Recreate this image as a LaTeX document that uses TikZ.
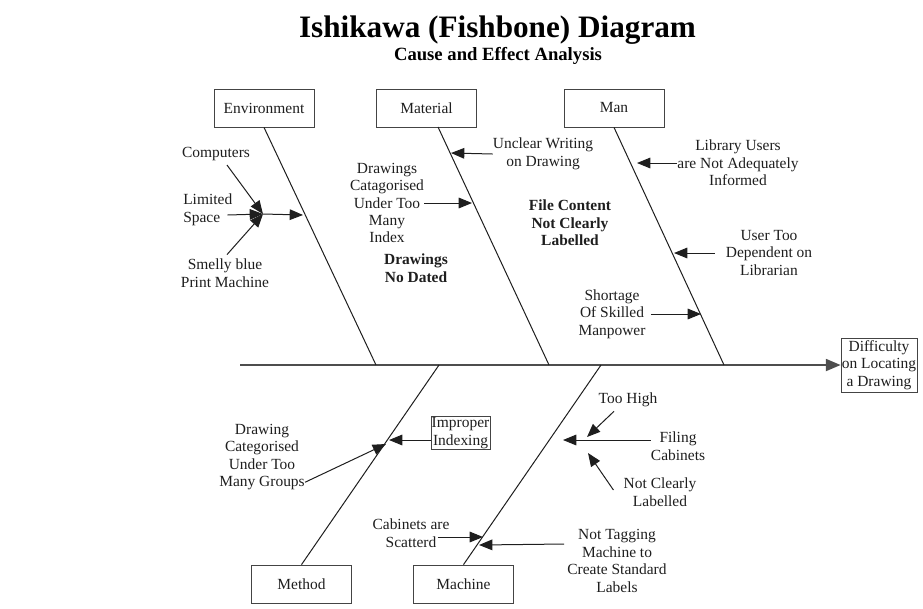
\documentclass[tikz,border=0pt]{standalone}
\usepackage{fontspec}
\setmainfont{Liberation Serif}
\usepackage{tikz}
\usetikzlibrary{arrows.meta,positioning,calc}
\definecolor{ink}{HTML}{1E1E1E}
\definecolor{spinec}{HTML}{4E4E4E}
\definecolor{edge}{HTML}{444444}
\newcommand\bodyfs{\fontsize{11.6}{13.1}\selectfont}

\begin{document}
\begin{tikzpicture}[x=0.75pt,y=-0.75pt,
    box/.style={draw=edge,line width=0.6pt,minimum width=75pt,minimum height=28.5pt,inner sep=0pt,font=\bodyfs,text=ink},
    lbl/.style={align=center,inner sep=0pt,font=\bodyfs,text=ink},
    hot/.style={lbl,font=\bodyfs\bfseries},
    bone/.style={draw=ink,line width=0.75pt},
    cause/.style={draw=ink,line width=0.75pt,-{Triangle[length=10pt,width=8pt]}}]
  \useasboundingbox (0,0) rectangle (923,608);
  \node[font=\fontsize{23.4}{26}\selectfont\bfseries,text=black,anchor=base] (title) at (497.5,37) {Ishikawa (Fishbone) Diagram};
  \node[font=\fontsize{14}{16}\selectfont\bfseries,text=black,anchor=base] (subtitle) at (498,60) {Cause and Effect Analysis};
  % categories and effect
  \foreach \n/\t/\x/\y in {env/Environment/264/108,mat/Material/426.5/108,man/Man/614/108,method/Method/301.5/584,machine/Machine/463.5/584}
    \node[box] (\n) at (\x,\y) {\t};
  \node[box,align=center,minimum width=57pt,minimum height=40.5pt,inner xsep=0.5pt] (effect) at (879,365) {Difficulty\\on Locating\\a Drawing};
  \coordinate (tail) at (240,365);
  \coordinate (matTop) at (438,127);
  \foreach \n/\x in {envJ/376,matJ/549,manJ/724,methJ/439,machJ/601}
    \coordinate (\n) at (\x,365);
  \draw[spinec,line width=1.3pt,-{Triangle[length=11pt,width=9pt]}] (tail) -- (effect.west);
  \foreach \a/\b in {env.south/envJ,matTop/matJ,man.south/manJ,method.north/methJ,machine.north/machJ}
    \draw[bone] (\a) -- (\b);
  % environment
  \node[lbl] (computers) at (216,154) {Computers};
  \node[lbl,align=left,anchor=west] (space) at (183,210) {Limited\\Space};
  \node[lbl] (smelly) at (225,273) {Smelly blue\\Print Machine};
  \coordinate (hub) at (263,214);
  \coordinate (envA) at (303,215);
  \draw[cause] ($(computers.south)+(11,4)$) -- (hub);
  \draw[cause] ($(space.east)+(-5,5)$) -- (hub);
  \draw[cause] ($(smelly.north)+(2,-4)$) -- (hub);
  \draw[cause] (hub) -- (envA);
  % material
  \node[lbl] (unclear) at (543,154) {Unclear Writing\\on Drawing};
  \node[lbl] (drawings) at (387,203) {Drawings\\Catagorised\\Under Too\\Many\\Index};
  \node[hot] (nodated) at (416,268) {Drawings\\No Dated};
  \node[hot] (content) at (570,223) {File Content\\Not Clearly\\Labelled};
  \coordinate (matA) at (451,153);
  \coordinate (matB) at (472,203);
  \draw[cause] (unclear.west) -- (matA);
  \draw[cause] (drawings.east) -- (matB);
  % man
  \node[lbl] (library) at (738,163) {Library Users\\are Not Adequately\\Informed};
  \node[lbl] (user) at (769,253) {User Too\\Dependent on\\Librarian};
  \node[lbl] (shortage) at (612,314) {Shortage\\Of Skilled\\Manpower};
  \coordinate (manA) at (637,163);
  \coordinate (manB) at (674,253);
  \coordinate (manC) at (701,314);
  \draw[cause] (library.west) -- (manA);
  \draw[cause] ($(user.west)+(-11,0)$) -- (manB);
  \draw[cause] ($(shortage.east)+(5,0)$) -- (manC);
  % method
  \node[lbl,draw=edge,line width=0.5pt,inner xsep=0.5pt,inner ysep=1pt] (improper) at (460.5,433) {Improper\\Indexing};
  \node[lbl] (groups) at (262,457) {Drawing\\Categorised\\Under Too\\Many Groups};
  \coordinate (methA) at (389,440);
  \coordinate (methB) at (386,444);
  \draw[cause] ($(improper.west)+(0,7)$) -- (methA);
  \draw[cause] ($(groups.south east)+(0,-8)$) -- (methB);
  % machine
  \node[lbl] (cabinets) at (411,533) {Cabinets are\\Scatterd};
  \node[lbl] (tagging) at (617,561) {Not Tagging\\Machine to\\Create Standard\\Labels};
  \node[lbl] (filing) at (678,446) {Filing\\Cabinets};
  \node[lbl] (toohigh) at (628,400) {Too High};
  \node[lbl] (notclear) at (660,492) {Not Clearly\\Labelled};
  \coordinate (machA) at (483,537);
  \coordinate (machB) at (479,545);
  \coordinate (machC) at (563,440);
  \coordinate (machD) at (587,437);
  \coordinate (machE) at (588,453);
  \draw[cause] ($(cabinets.east)+(-12,4)$) -- (machA);
  \draw[cause] ($(tagging.west)+(-3,-17)$) -- (machB);
  \draw[cause] ($(filing.west)+(0,-6)$) -- (machC);
  \draw[cause] ($(toohigh.south)+(-14,4)$) -- (machD);
  \draw[cause] ($(notclear.west)+(-10,-2)$) -- (machE);
\end{tikzpicture}
\end{document}
